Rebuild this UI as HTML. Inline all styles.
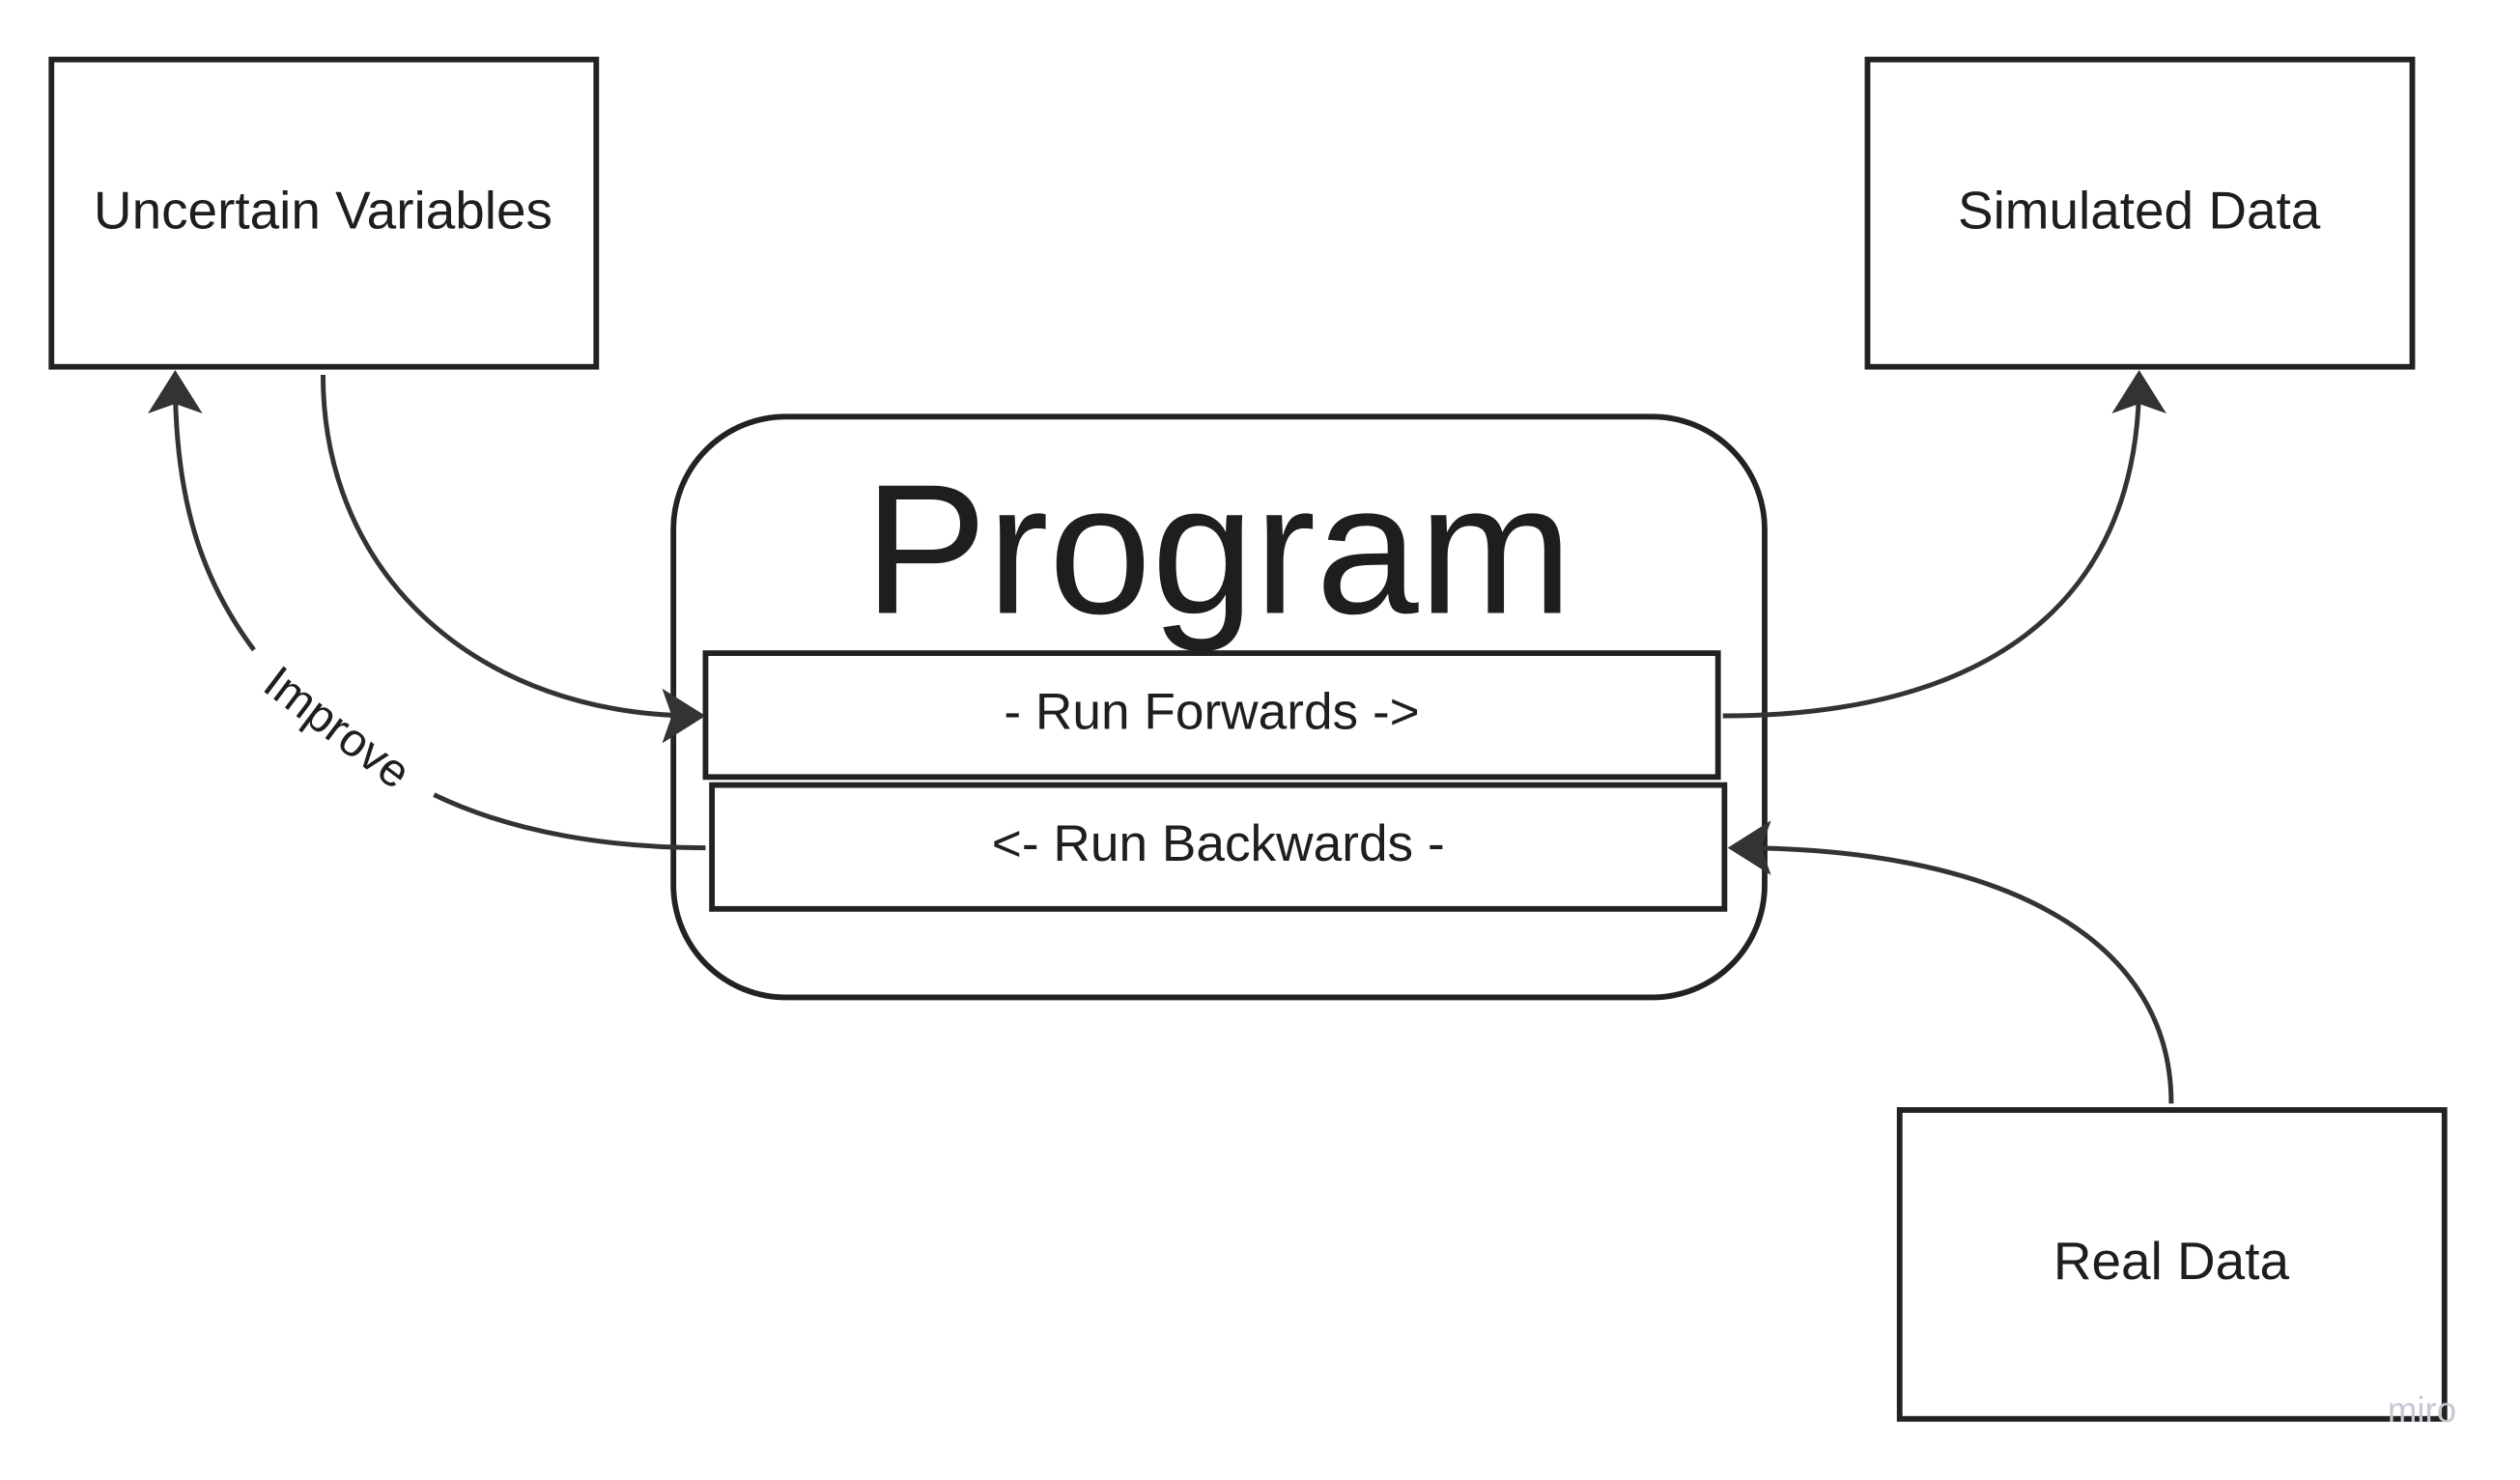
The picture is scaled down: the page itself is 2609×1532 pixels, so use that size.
<!DOCTYPE html>
<html><head><meta charset="utf-8"><style>
html,body{margin:0;padding:0;background:#fff;}
svg{display:block;}
text{font-family:"Liberation Sans",sans-serif;fill:#1e1e1e;}
</style></head><body>
<svg width="2609" height="1532" viewBox="0 0 1568 920" preserveAspectRatio="none" xmlns="http://www.w3.org/2000/svg">
<g fill="none" stroke="#222" stroke-width="3.5">
<rect x="32" y="37" width="339" height="191"/>
<rect x="1162" y="37" width="339" height="191"/>
<rect x="1182" y="690" width="339" height="192"/>
<rect x="419" y="259" width="679" height="361" rx="70"/>
<rect x="439" y="406" width="630" height="77"/>
<rect x="443" y="488" width="630" height="77"/>
</g>
<g fill="none" stroke="#333" stroke-width="3">
<path d="M201,233 C201,360 300,445 434,445"/>
<path d="M1072,445 C1230,445 1331,380 1331,236"/>
<path d="M1351,686 C1351,580 1240,527 1080,527"/>
<path d="M439,527 C380,527 320,518 270,494"/>
<path d="M158,404 C125,360 109,310 109,236"/>
</g>
<g fill="#333">
<path d="M439,445 L412,428 L418,445 L412,462 Z"/>
<path d="M109,230 L92,257 L109,251 L126,257 Z"/>
<path d="M1331,230 L1314,257 L1331,251 L1348,257 Z"/>
<path d="M1075,527 L1102,510 L1096,527 L1102,544 Z"/>
</g>
<g font-size="33" text-anchor="middle">
<text x="201" y="142">Uncertain Variables</text>
<text x="1331" y="142">Simulated Data</text>
<text x="1351" y="795">Real Data</text>
<text x="754" y="453" font-size="32">- Run Forwards -&gt;</text>
<text x="758" y="535" font-size="32">&lt;- Run Backwards -</text>
<text x="210" y="462" transform="rotate(37 210 452)" font-size="29">Improve</text>
</g>
<text x="758" y="381" font-size="115" text-anchor="middle">Program</text>
<text x="1507" y="884" font-size="22" text-anchor="middle" style="fill:#c8c8d4">miro</text>
</svg>
</body></html>
